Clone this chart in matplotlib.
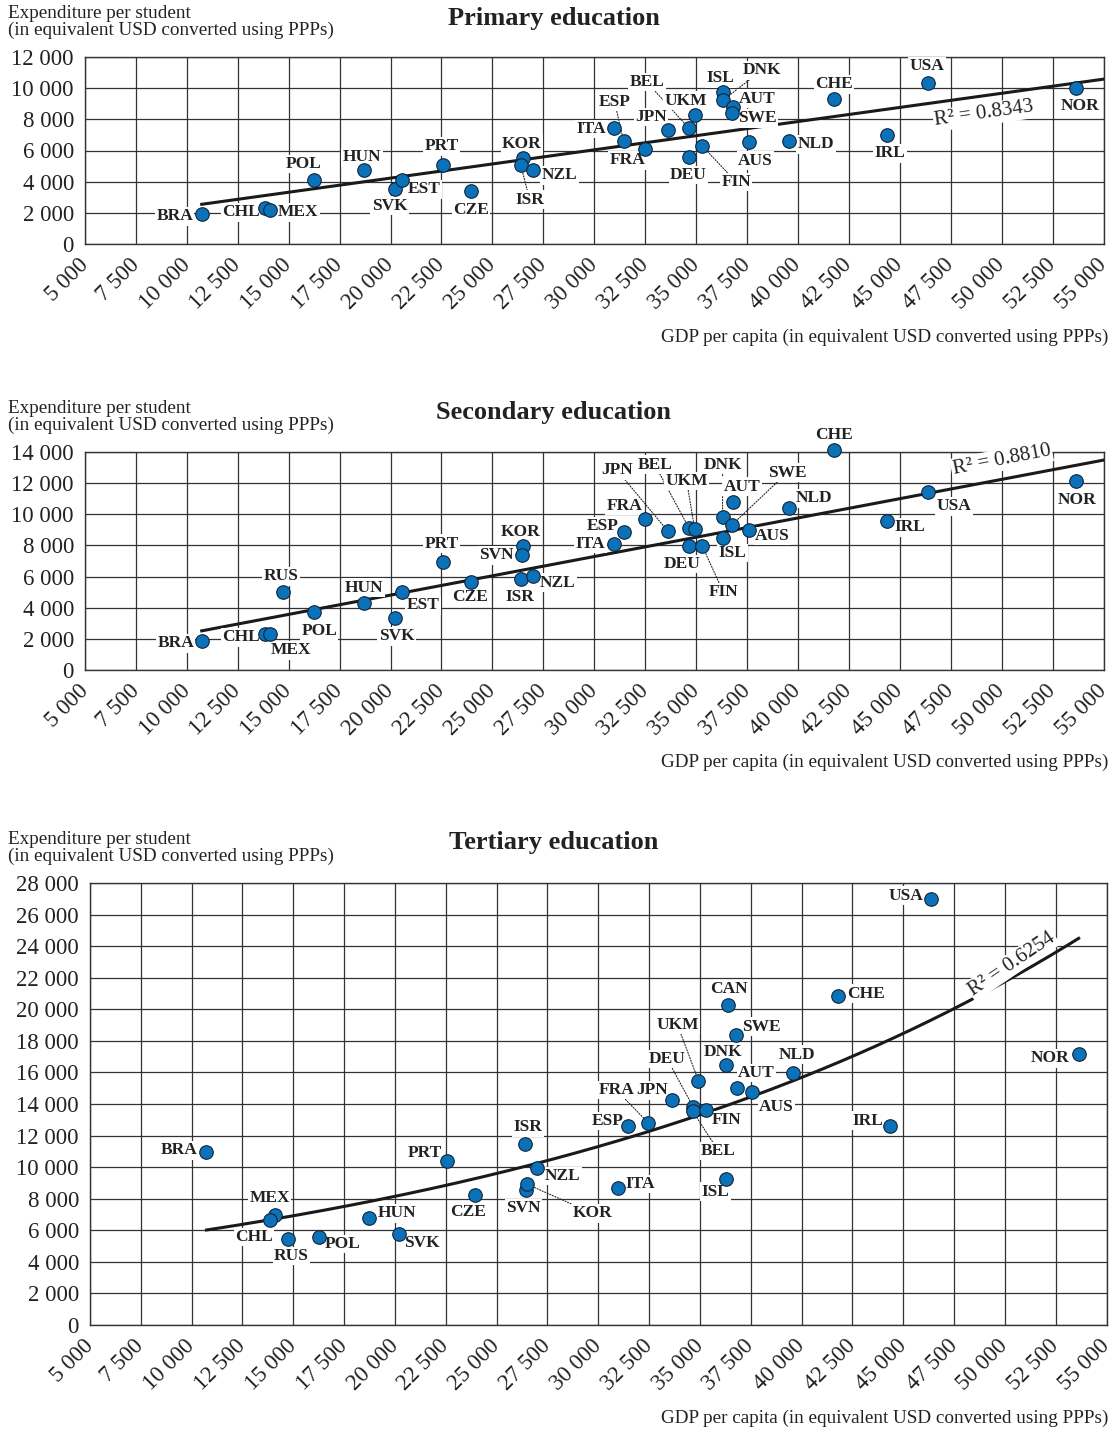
import numpy as np
import matplotlib.pyplot as plt

plt.rcParams['font.family'] = ['Liberation Serif', 'DejaVu Serif']

# GDP per capita (USD PPP), shared by all panels
gdp_codes = ['BRA', 'CHL', 'MEX', 'RUS', 'POL', 'HUN', 'SVK', 'EST', 'PRT', 'CZE',
             'KOR', 'SVN', 'ISR', 'NZL', 'ITA', 'ESP', 'FRA', 'JPN', 'BEL', 'UKM',
             'DEU', 'FIN', 'ISL', 'DNK', 'SWE', 'AUT', 'CAN', 'AUS', 'NLD', 'CHE',
             'IRL', 'USA', 'NOR']
gdp_values = [10730, 13850, 14090, 14720, 16250, 18700, 20200, 20570, 22570, 23950,
              26500, 26470, 26390, 26970, 30990, 31440, 32470, 33620, 34640, 34930,
              34670, 35300, 36300, 36300, 36760, 36810, 36360, 37580, 39570, 41780,
              44360, 46390, 53630]

# expenditure per student
primary_codes = ['BRA', 'CHL', 'MEX', 'POL', 'HUN', 'SVK', 'EST', 'PRT', 'CZE', 'KOR',
                 'ISR', 'NZL', 'ITA', 'ESP', 'FRA', 'JPN', 'BEL', 'UKM', 'DEU', 'FIN',
                 'ISL', 'DNK', 'AUT', 'SWE', 'AUS', 'NLD', 'CHE', 'IRL', 'USA', 'NOR']
primary_spend = [1900, 2290, 2160, 4100, 4720, 3540, 4080, 5050, 3420, 5510,
                 5080, 4730, 7450, 6610, 6070, 7310, 7440, 8300, 5590, 6290,
                 9730, 9210, 8810, 8390, 6560, 6600, 9280, 6970, 10310, 9990]

secondary_codes = ['BRA', 'CHL', 'MEX', 'RUS', 'POL', 'HUN', 'SVK', 'EST', 'PRT', 'CZE',
                   'KOR', 'SVN', 'ISR', 'NZL', 'ITA', 'ESP', 'FRA', 'JPN', 'BEL', 'UKM',
                   'DEU', 'FIN', 'DNK', 'ISL', 'SWE', 'AUT', 'AUS', 'NLD', 'CHE', 'IRL',
                   'USA', 'NOR']
secondary_spend = [1850, 2300, 2300, 4990, 3710, 4320, 3310, 4990, 6950, 5630,
                   7980, 7360, 5860, 6060, 8110, 8860, 9700, 8910, 9140, 9050,
                   7970, 7970, 9820, 8480, 9320, 10810, 8990, 10390, 14110, 9550,
                   11420, 12140]

tertiary_codes = ['BRA', 'MEX', 'CHL', 'RUS', 'POL', 'HUN', 'SVK', 'PRT', 'CZE', 'ISR',
                  'NZL', 'SVN', 'KOR', 'ITA', 'ESP', 'FRA', 'JPN', 'DEU', 'BEL', 'UKM',
                  'FIN', 'CAN', 'DNK', 'SWE', 'AUT', 'AUS', 'NLD', 'CHE', 'IRL', 'ISL',
                  'USA', 'NOR']
tertiary_spend = [10950, 7000, 6650, 5450, 5580, 6750, 5750, 10400, 8220, 11450,
                  9940, 8530, 8920, 8680, 12600, 12790, 14230, 13810, 13550, 15470,
                  13600, 20250, 16470, 18380, 15020, 14770, 15980, 20870, 12630, 9280,
                  27000, 17150]

# trend lines as drawn in the source (linear: slope, intercept; exp: a, b)
primary_trend = (0.1814, 601)
secondary_trend = (0.2477, -144)
tertiary_trend = (4236, 3.272e-5)
r2_texts = ['R² = 0.8343', 'R² = 0.8810', 'R² = 0.6254']

x_ticks = np.arange(5000, 55001, 2500)

# label offsets in pixels (dx, dy) from the dot; True = dotted leader line
primary_labels = {
    'BRA': (-27, -2, False), 'CHL': (-24, -4, False), 'MEX': (28, -2, False),
    'POL': (-11, 16, False), 'HUN': (-2, 13, False), 'SVK': (-5, -17, False),
    'EST': (22, -9, False), 'PRT': (-1, 19, False), 'CZE': (0, -19, False),
    'KOR': (-1, 14, False), 'ISR': (9, -35, True), 'NZL': (27, -5, False),
    'ITA': (-23, -1, False), 'ESP': (-9, 39, True), 'FRA': (-17, -11, False),
    'JPN': (-17, 13, False), 'BEL': (-42, 46, True), 'UKM': (-9, 14, False),
    'DEU': (-1, -18, False), 'FIN': (34, -36, True), 'ISL': (-2, 14, False),
    'DNK': (39, 30, True), 'AUT': (24, 8, False), 'SWE': (25, -5, False),
    'AUS': (7, -19, False), 'NLD': (27, -3, False), 'CHE': (0, 15, False),
    'IRL': (3, -18, False), 'USA': (-1, 17, False), 'NOR': (4, -18, False),
}
secondary_labels = {
    'BRA': (-26, -2, False), 'CHL': (-24, -3, False), 'MEX': (21, -16, False),
    'RUS': (-2, 16, False), 'POL': (5, -19, False), 'HUN': (0, 15, False),
    'SVK': (2, -18, False), 'EST': (21, -13, False), 'PRT': (-1, 18, False),
    'CZE': (-1, -15, False), 'KOR': (-2, 14, False), 'SVN': (-26, 0, False),
    'ISR': (-1, -18, False), 'NZL': (25, -7, False), 'ITA': (-24, 0, False),
    'ESP': (-21, 6, False), 'FRA': (-20, 13, False), 'JPN': (-51, 61, True),
    'BEL': (-34, 63, True), 'UKM': (-8, 48, True), 'DEU': (-7, -18, False),
    'FIN': (21, -46, True), 'DNK': (0, 52, True), 'AUT': (9, 15, False),
    'SWE': (55, 52, True), 'ISL': (10, -15, False), 'AUS': (24, -6, False),
    'NLD': (25, 10, False), 'CHE': (0, 15, False), 'IRL': (23, -6, False),
    'USA': (26, -14, False), 'NOR': (1, -19, False),
}
tertiary_labels = {
    'BRA': (-27, 2, False), 'MEX': (-5, 16, False), 'CHL': (-16, -17, False),
    'RUS': (4, -17, False), 'POL': (24, -7, False), 'HUN': (28, 5, False),
    'SVK': (23, -9, False), 'PRT': (-22, 8, False), 'CZE': (-7, -17, False),
    'ISR': (3, 17, False), 'NZL': (26, -8, False), 'SVN': (-3, -18, False),
    'KOR': (65, -29, True), 'ITA': (22, 4, False), 'ESP': (-20, 5, False),
    'FRA': (-32, 33, True), 'JPN': (-20, 10, False), 'DEU': (-26, 48, True),
    'BEL': (26, -40, True), 'UKM': (-21, 56, True), 'FIN': (21, -10, False),
    'CAN': (1, 16, False), 'DNK': (-3, 13, False), 'SWE': (26, 8, False),
    'AUT': (20, 15, False), 'AUS': (24, -15, False), 'NLD': (4, 18, False),
    'CHE': (28, 2, False), 'IRL': (-22, 5, False), 'ISL': (-11, -13, False),
    'USA': (-26, 3, False), 'NOR': (-29, -4, False),
}

W, H = 1119, 1429
fig = plt.figure(figsize=(W / 100, H / 100), dpi=100)
gdp_lookup = dict(zip(gdp_codes, gdp_values))

grid_col = '#333333'
dot_col = '#0b72b9'
txt_col = '#222222'


def fmt(v):
    return f'{v:,.0f}'.replace(',', ' ')


def panel(px_box, title, title_y, codes, spend, ymax, labels, kind, trend, r2, r2_pos,
          r2_rot, ylab_y, xlab_y):
    left, right, top, bottom = px_box
    ax = fig.add_axes([left / W, 1 - bottom / H, (right - left) / W, (bottom - top) / H])
    x = np.array([gdp_lookup[c] for c in codes], dtype=float)
    y = np.array(spend, dtype=float)

    ax.set_xlim(5000, 55000)
    ax.set_ylim(0, ymax)
    yt = np.arange(0, ymax + 1, 2000)
    ax.set_yticks(yt)
    ax.set_yticklabels([fmt(v) for v in yt], fontsize=16.5, color=txt_col)
    ax.set_xticks(x_ticks)
    ax.set_xticklabels([fmt(v) for v in x_ticks], fontsize=16.5, color=txt_col,
                       rotation=45, ha='right', va='center', rotation_mode='anchor')
    ax.tick_params(length=0)
    ax.tick_params(axis='y', pad=8)
    ax.tick_params(axis='x', pad=13)
    ax.grid(True, color=grid_col, lw=0.9)
    ax.set_axisbelow(True)
    for s in ax.spines.values():
        s.set_color(grid_col)
        s.set_linewidth(1.0)

    # trend line
    if kind == 'lin':
        xs = np.linspace(x.min(), 55000, 100)
        ys = trend[0] * xs + trend[1]
    else:
        xs = np.linspace(x.min(), x.max(), 200)
        ys = trend[0] * np.exp(trend[1] * xs)
    ax.plot(xs, ys, color='#1a1a1a', lw=2.2, zorder=4)

    ax.scatter(x, y, s=95, color=dot_col, edgecolor='#10243a', linewidth=0.8, zorder=6,
               clip_on=False)

    for c, xi, yi in zip(codes, x, y):
        dx, dy, lead = labels[c]
        kw = {}
        if lead:
            kw['arrowprops'] = dict(arrowstyle='-', linestyle=(0, (1, 1.5)), lw=0.8,
                                    color=txt_col, shrinkA=0, shrinkB=1)
        ax.annotate(c, (xi, yi), xytext=(dx, dy), textcoords='offset pixels',
                    ha='center', va='center', fontsize=12.5, fontweight='bold',
                    color=txt_col, zorder=5, annotation_clip=False,
                    bbox=dict(facecolor='white', edgecolor='none', pad=1.0), **kw)

    ax.text(r2_pos[0], r2_pos[1], r2, transform=ax.transAxes, fontsize=15,
            rotation=r2_rot, ha='center', va='center', color=txt_col, zorder=5,
            bbox=dict(facecolor='white', edgecolor='none', pad=1.0))

    fig.text(554 / W, 1 - title_y / H, title, fontsize=19, fontweight='bold',
             ha='center', va='center', color=txt_col)
    fig.text(8 / W, 1 - ylab_y / H,
             'Expenditure per student\n(in equivalent USD converted using PPPs)',
             fontsize=13.8, ha='left', va='center', linespacing=0.92, color=txt_col)
    fig.text(1108 / W, 1 - xlab_y / H,
             'GDP per capita (in equivalent USD converted using PPPs)',
             fontsize=13.8, ha='right', va='center', color=txt_col)
    return ax


panel((85, 1103.5, 57, 244), 'Primary education', 18, primary_codes, primary_spend,
      12000, primary_labels, 'lin', primary_trend, r2_texts[0], (0.883, 0.695), 8, 22, 337)
panel((85, 1103.5, 452, 670), 'Secondary education', 413, secondary_codes,
      secondary_spend, 14000, secondary_labels, 'lin', secondary_trend, r2_texts[1],
      (0.900, 0.963), 11, 417, 762)
panel((90, 1106.5, 883, 1325), 'Tertiary education', 843, tertiary_codes, tertiary_spend,
      28000, tertiary_labels, 'exp', tertiary_trend, r2_texts[2], (0.907, 0.817), 34,
      848, 1418)

fig.savefig('out.png', dpi=100)
